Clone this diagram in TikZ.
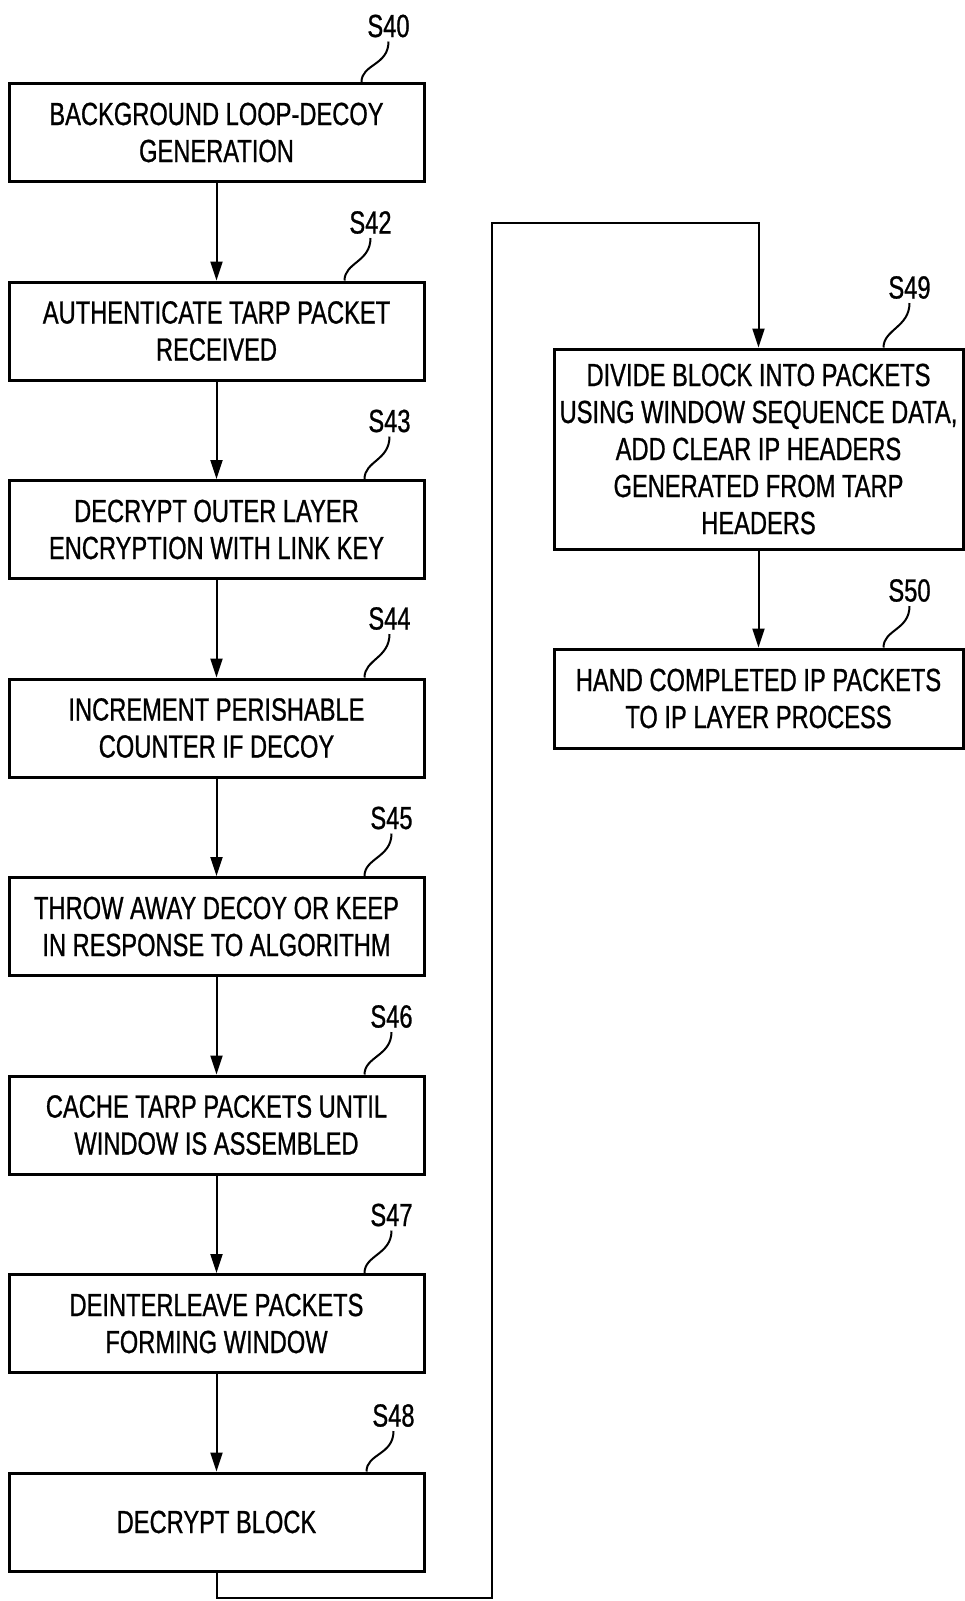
\documentclass[tikz,border=0pt]{standalone}
\usepackage{fontspec}
\setmainfont{Liberation Sans}[FakeStretch=0.74,FakeBold=0.8]
\usepackage{tikz}
\usetikzlibrary{arrows.meta,positioning,calc}
\tikzset{
    %Define standard arrow tip
    >={Triangle[length=19pt,width=12pt]},
    %Define style for boxes
    stepbox/.style={
           rectangle,
           draw=black, line width=3pt,
           minimum width=415pt,
           minimum height=98pt,
           font=\fontsize{32}{37}\selectfont,
           align=center,
           inner sep=2pt,
           },
    steplabel/.style={
           font=\fontsize{32}{37}\selectfont,
           inner sep=4pt,
           },
    % Define arrow style
    pil/.style={
           ->,
           line width=2pt,},
    squig/.style={line width=2pt}
}
\begin{document}
\begin{tikzpicture}[x=1pt,y=-1pt,node distance=97.5pt]
\useasboundingbox (0,0) rectangle (965,1601);
% left column
\node[stepbox] (s40) at (216.5,132.5) {BACKGROUND LOOP-DECOY\\GENERATION};
\node[stepbox, below=of s40] (s42) {AUTHENTICATE TARP PACKET\\RECEIVED};
\node[stepbox, below=of s42] (s43) {DECRYPT OUTER LAYER\\ENCRYPTION WITH LINK KEY};
\node[stepbox, below=of s43] (s44) {INCREMENT PERISHABLE\\COUNTER IF DECOY};
\node[stepbox, below=of s44] (s45) {THROW AWAY DECOY OR KEEP\\IN RESPONSE TO ALGORITHM};
\node[stepbox, below=of s45] (s46) {CACHE TARP PACKETS UNTIL\\WINDOW IS ASSEMBLED};
\node[stepbox, below=of s46] (s47) {DEINTERLEAVE PACKETS\\FORMING WINDOW};
\node[stepbox, below=of s47] (s48) {DECRYPT BLOCK};
% right column
\node[stepbox, minimum width=409pt, minimum height=200pt] (s49) at (758.5,449)
    {DIVIDE BLOCK INTO PACKETS\\USING WINDOW SEQUENCE DATA,\\ADD CLEAR IP HEADERS\\GENERATED FROM TARP\\HEADERS};
\node[stepbox, minimum width=409pt, minimum height=99pt, below=97pt of s49] (s50)
    {HAND COMPLETED IP PACKETS\\TO IP LAYER PROCESS};
% step labels
\node[steplabel] (l40) at ($(s40.north east)+(-37,-56)$) {S40};
\node[steplabel] (l42) at ($(s42.north east)+(-55,-58)$) {S42};
\node[steplabel] (l43) at ($(s43.north east)+(-36,-58)$) {S43};
\node[steplabel] (l44) at ($(s44.north east)+(-36,-59)$) {S44};
\node[steplabel] (l45) at ($(s45.north east)+(-34,-58)$) {S45};
\node[steplabel] (l46) at ($(s46.north east)+(-34,-58)$) {S46};
\node[steplabel] (l47) at ($(s47.north east)+(-34,-58)$) {S47};
\node[steplabel] (l48) at ($(s48.north east)+(-32,-56)$) {S48};
\node[steplabel] (l49) at ($(s49.north east)+(-55,-60)$) {S49};
\node[steplabel] (l50) at ($(s50.north east)+(-55,-57)$) {S50};
\draw[squig] (l40.south) .. controls +(0,24) and +(0,-18) .. ($(s40.north east)+(-64,0)$);
\draw[squig] (l42.south) .. controls +(0,24) and +(0,-18) .. ($(s42.north east)+(-81,0)$);
\draw[squig] (l43.south) .. controls +(0,24) and +(0,-18) .. ($(s43.north east)+(-61,0)$);
\draw[squig] (l44.south) .. controls +(0,24) and +(0,-18) .. ($(s44.north east)+(-61,0)$);
\draw[squig] (l45.south) .. controls +(0,24) and +(0,-18) .. ($(s45.north east)+(-61,0)$);
\draw[squig] (l46.south) .. controls +(0,24) and +(0,-18) .. ($(s46.north east)+(-61,0)$);
\draw[squig] (l47.south) .. controls +(0,24) and +(0,-18) .. ($(s47.north east)+(-61,0)$);
\draw[squig] (l48.south) .. controls +(0,24) and +(0,-18) .. ($(s48.north east)+(-59,0)$);
\draw[squig] (l49.south) .. controls +(0,24) and +(0,-18) .. ($(s49.north east)+(-81,0)$);
\draw[squig] (l50.south) .. controls +(0,24) and +(0,-18) .. ($(s50.north east)+(-81,0)$);
% flow
\path[pil]
	(s40) edge (s42)
	(s42) edge (s43)
	(s43) edge (s44)
	(s44) edge (s45)
	(s45) edge (s46)
	(s46) edge (s47)
	(s47) edge (s48)
	(s49) edge (s50);
\coordinate (b1) at (492,1598);
\coordinate (b2) at (492,223);
\draw[pil] (s48.south) |- (b1) -- (b2) -| (s49.north);
\end{tikzpicture}
\end{document}
